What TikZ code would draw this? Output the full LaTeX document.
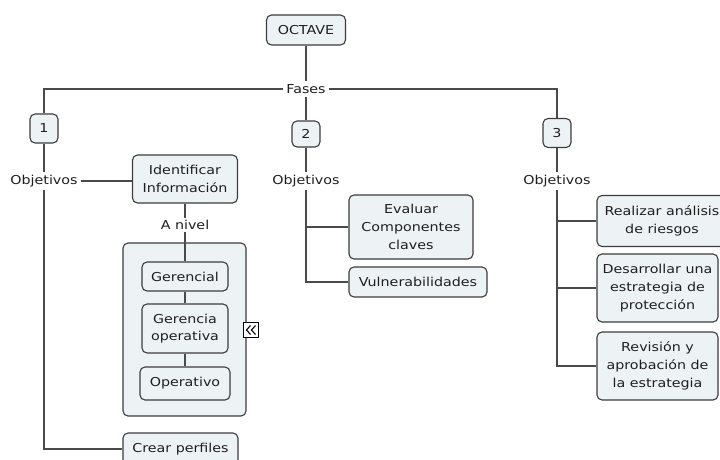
\documentclass[tikz,border=0pt]{standalone}
\usepackage{fontspec}
\setmainfont[FakeStretch=1.16]{DejaVu Sans}
\begin{document}
\begin{tikzpicture}[x=1pt,y=-1pt,
  every node/.style={font=\fontsize{12.3}{17.7}\selectfont, text=black!88},
  box/.style={draw=boxline, fill=boxfill, rounded corners=5pt, line width=1.1pt,
    align=center, inner sep=2pt},
  label/.style={fill=white, inner sep=3pt},
  link/.style={draw=linkcol, line width=1.1pt},
]
\definecolor{boxfill}{HTML}{EDF2F5}
\definecolor{boxline}{HTML}{3C3C3C}
\definecolor{linkcol}{HTML}{4A4A4A}
\useasboundingbox (0,0) rectangle (720,459);
\clip (0,0) rectangle (720,459);

% grouped levels container
\node[box, minimum width=123pt, minimum height=173pt] (group) at (184.5,329.5) {};

% top of the tree
\node[box, minimum width=79pt, minimum height=30pt] (octave) at (306,30) {OCTAVE};
\node[label] (fases) at (306,89) {Fases};

% phase numbers
\node[box, minimum width=28pt, minimum height=29pt] (n1) at (44,128.5) {1};
\node[box, minimum width=28pt, minimum height=26pt] (n2) at (306,134) {2};
\node[box, minimum width=28pt, minimum height=29pt] (n3) at (557,133) {3};

% objective labels
\node[label] (obj1) at (44,181) {Objetivos};
\node[label] (obj2) at (306,181) {Objetivos};
\node[label] (obj3) at (557,181) {Objetivos};

% phase 1
\node[box, minimum width=105pt, minimum height=48pt] (ident) at (185,179) {Identificar\\Información};
\node[label, inner sep=2pt] (anivel) at (185,225) {A nivel};
\node[box, minimum width=86pt, minimum height=29pt] (ger) at (185,276.5) {Gerencial};
\node[box, minimum width=86pt, minimum height=49pt] (gop) at (185,328.5) {Gerencia\\operativa};
\node[box, minimum width=90pt, minimum height=33pt] (op) at (185,383.5) {Operativo};
\node[box, minimum width=115pt, minimum height=32pt] (crear) at (180.5,449) {Crear perfiles};

% collapse toggle on the container
\node[draw=black, fill=white, line width=0.8pt, minimum size=15pt, inner sep=0pt] (toggle) at (251,330) {};
\draw[line width=1.1pt, black] ([xshift=0.5pt]toggle.center) ++(-1,-4.5) -- ++(-4,4.5) -- ++(4,4.5);
\draw[line width=1.1pt, black] ([xshift=0.5pt]toggle.center) ++(4,-4.5) -- ++(-4,4.5) -- ++(4,4.5);

% phase 2
\node[box, minimum width=124pt, minimum height=64pt] (eval) at (411,227) {Evaluar\\Componentes\\claves};
\node[box, minimum width=138pt, minimum height=30pt] (vuln) at (418,282) {Vulnerabilidades};

% phase 3
\node[box, minimum width=130pt, minimum height=51pt] (real) at (662,221) {Realizar análisis\\de riesgos};
\node[box, minimum width=121pt, minimum height=68pt] (desa) at (657.5,288) {Desarrollar una\\estrategia de\\protección};
\node[box, minimum width=121pt, minimum height=68pt] (rev) at (657.5,366) {Revisión y\\aprobación de\\la estrategia};

% connectors
\path[link] (octave.south) -- (fases.north);
\path[link] (fases.west) -| (n1.north);
\path[link] (fases.east) -| (n3.north);
\path[link] (fases.south) -- (n2.north);

\path[link] (n1.south) -- (obj1.north);
\path[link] (obj1.east) -- (obj1.east -| ident.west);
\path[link] (obj1.south) |- (crear.west);
\path[link] (ident.south) -- (anivel.north);
\path[link] (anivel.south) -- (ger.north);
\path[link] (ger.south) -- (gop.north);
\path[link] (gop.south) -- (op.north);

\path[link] (n2.south) -- (obj2.north);
\path[link] (obj2.south) |- (eval.west);
\path[link] (obj2.south) |- (vuln.west);

\path[link] (n3.south) -- (obj3.north);
\path[link] (obj3.south) |- (real.west);
\path[link] (obj3.south) |- (desa.west);
\path[link] (obj3.south) |- (rev.west);
\end{tikzpicture}
\end{document}
